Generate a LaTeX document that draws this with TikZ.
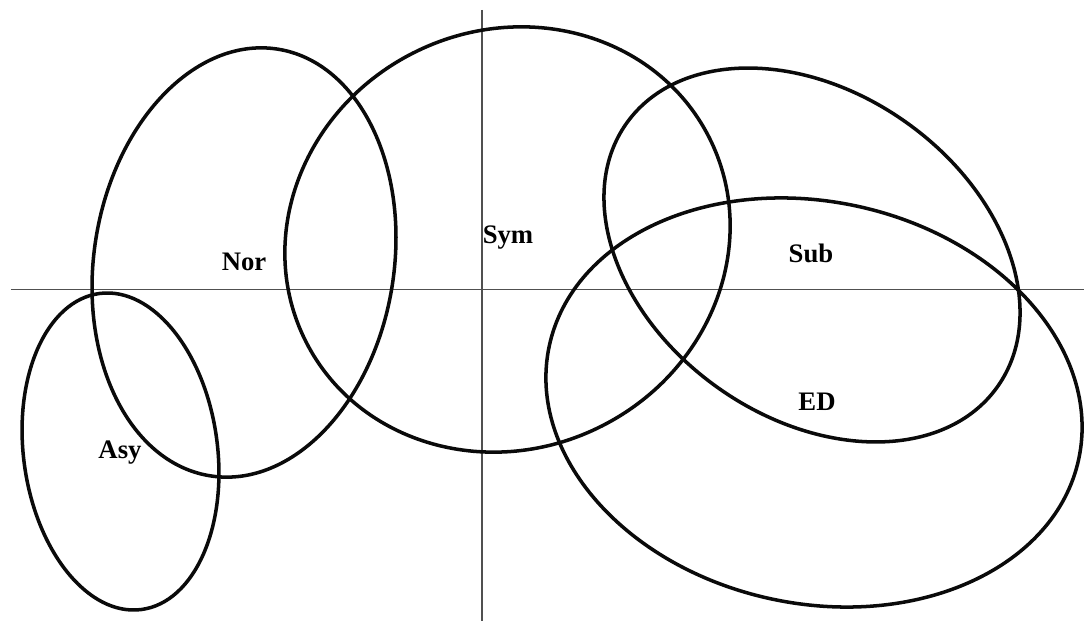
\documentclass[tikz,border=0pt]{standalone}
\usepackage{fontspec}
\setmainfont{Liberation Serif}
\usepackage{tikz}
\usetikzlibrary{positioning}
\definecolor{axisgray}{RGB}{80, 80, 80}
\definecolor{setblack}{RGB}{10, 10, 10}

\begin{document}
\begin{tikzpicture}[
    setline/.style={setblack, line width=2.5pt},
    axisline/.style={axisgray, line width=1pt},
    setlabel/.style={font=\fontsize{19}{22}\selectfont\bfseries, inner sep=1pt}]
  \useasboundingbox (0,0) rectangle (27.1,15.525);
  %---- axes -----------------------------------------------------------------
  \draw[axisline] (0.275,8.2875) -- (27.1,8.2875);
  \draw[axisline] (12.05,15.275) -- (12.05,0);
  %---- sets -----------------------------------------------------------------
  \draw[setline] (6.10,8.9625) ellipse [x radius=3.75cm, y radius=5.40cm, rotate=-9];
  \draw[setline] (12.6875,9.5375) ellipse [x radius=5.65cm, y radius=5.225cm, rotate=27];
  \draw[setline] (3.0125,4.2375) ellipse [x radius=2.425cm, y radius=3.985cm, rotate=7.6];
  \draw[setline] (20.30,9.15) ellipse [x radius=5.6875cm, y radius=4.0675cm, rotate=-35.4];
  \draw[setline] (20.35,5.4625) ellipse [x radius=6.7675cm, y radius=5.025cm, rotate=-12];
  %---- labels ---------------------------------------------------------------
  \node[setlabel] (nor) at (6.1,8.975) {Nor};
  \node[setlabel] (sym) at (12.7,9.575) {Sym};
  \node[setlabel] (sub) at (20.275,9.2) {Sub};
  \node[setlabel] (ed)  at (20.425,5.475) {ED};
  \node[setlabel] (asy) at (3.0,4.2) {Asy};
\end{tikzpicture}
\end{document}
